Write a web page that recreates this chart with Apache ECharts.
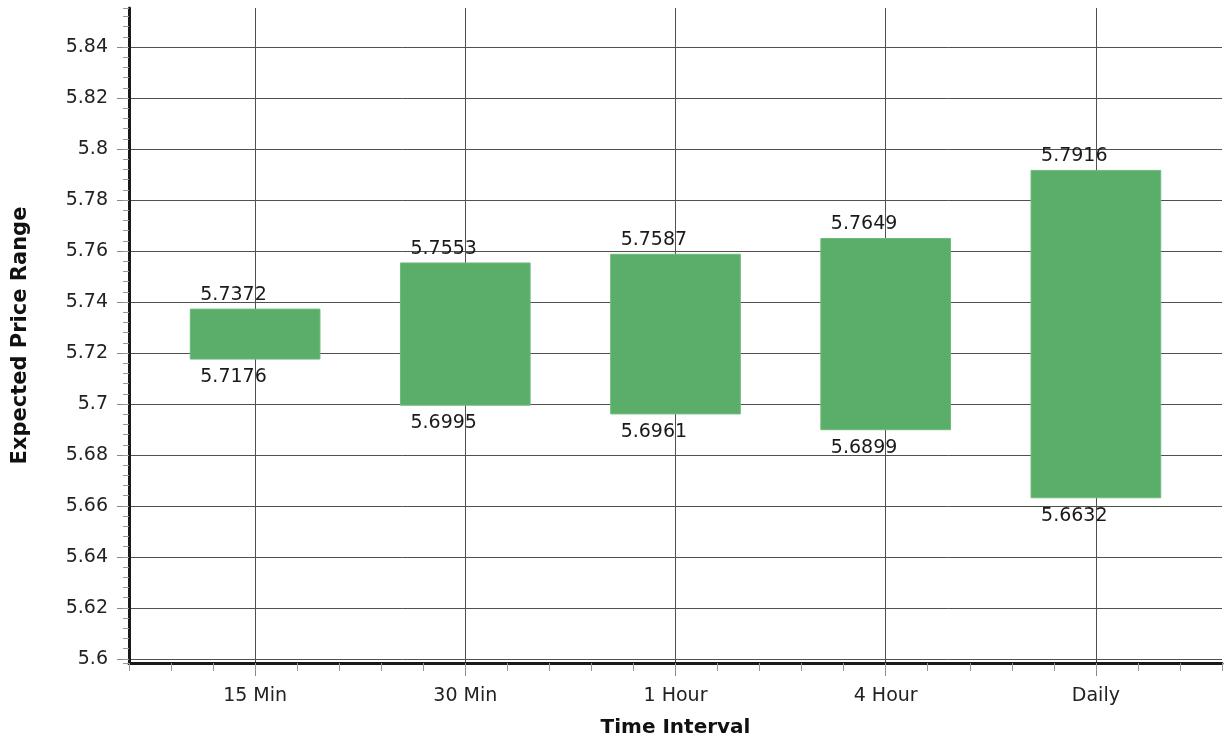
<!DOCTYPE html>
<html>
<head>
<meta charset="utf-8">
<script src="https://cdn.jsdelivr.net/npm/echarts@6/dist/echarts.min.js"></script>
<style>
  html, body { margin: 0; padding: 0; background: #ffffff; }
  #chart { width: 1225px; height: 743px; }
</style>
</head>
<body>
<div id="chart"></div>
<script>
// ---- data ----
const categories = ['15 Min', '30 Min', '1 Hour', '4 Hour', 'Daily'];
const highs = [5.7372, 5.7553, 5.7587, 5.7649, 5.7916];
const lows  = [5.7176, 5.6995, 5.6961, 5.6899, 5.6632];
const yMin = 5.5984, yMax = 5.8553, yStep = 0.02, yMinorStep = 0.004;
const xMin = -0.6, xMax = 4.6;
const yTickValues = [5.6, 5.62, 5.64, 5.66, 5.68, 5.7, 5.72, 5.74, 5.76, 5.78, 5.8, 5.82, 5.84];
const xTickValues = categories.map((c, i) => i);

const FONT = 'DejaVu Sans';
const rangeData = categories.map((c, i) => [i, lows[i], highs[i]]);

const chart = echarts.init(document.getElementById('chart'), null, { renderer: 'canvas' });

const option = {
  backgroundColor: '#ffffff',
  animation: false,
  grid: { left: 129, right: 0, top: 8, bottom: 80, containLabel: false },
  xAxis: [
    {
      type: 'value', min: xMin, max: xMax, minInterval: 1, maxInterval: 1,
      position: 'bottom',
      name: 'Time Interval', nameLocation: 'middle', nameGap: 55,
      nameTextStyle: { fontFamily: FONT, fontSize: 20, fontWeight: 'bold', color: '#111' },
      axisLine: { show: true, onZero: false, lineStyle: { color: '#1a1a1a', width: 3 } },
      axisTick: { show: true, length: 13, customValues: xTickValues, lineStyle: { color: '#888', width: 1 } },
      axisLabel: {
        margin: 24, fontFamily: FONT, fontSize: 19, color: '#222',
        formatter: v => (Math.abs(v - Math.round(v)) < 1e-6 && categories[Math.round(v)] !== undefined) ? categories[Math.round(v)] : ''
      },
      splitLine: { show: true, showMinLine: true, showMaxLine: true, lineStyle: { color: '#505050', width: 1 } }
    },
    {
      type: 'value', min: xMin, max: xMax, interval: 0.2,
      position: 'bottom', offset: 0,
      axisLine: { show: false, onZero: false },
      axisTick: { show: true, length: 8, lineStyle: { color: '#999', width: 1 } },
      axisLabel: { show: false },
      splitLine: { show: false }
    }
  ],
  yAxis: [
    {
      type: 'value', min: yMin, max: yMax, minInterval: yStep, maxInterval: yStep,
      position: 'left',
      name: 'Expected Price Range', nameLocation: 'middle', nameGap: 98,
      nameTextStyle: { fontFamily: FONT, fontSize: 21, fontWeight: 'bold', color: '#111' },
      axisLine: { show: true, onZero: false, lineStyle: { color: '#1a1a1a', width: 3 } },
      axisTick: { show: true, length: 12, customValues: yTickValues, lineStyle: { color: '#888', width: 1 } },
      axisLabel: {
        margin: 21, fontFamily: FONT, fontSize: 19, color: '#222',
        formatter: v => {
          const k = v / yStep;
          return Math.abs(k - Math.round(k)) < 1e-6 ? String(+v.toFixed(2)) : '';
        }
      },
      splitLine: { show: true, showMinLine: true, showMaxLine: true, lineStyle: { color: '#505050', width: 1 } }
    },
    {
      type: 'value', min: yMin, max: yMax, minInterval: yMinorStep, maxInterval: yMinorStep,
      position: 'left', offset: 0,
      axisLine: { show: false, onZero: false },
      axisTick: { show: true, length: 6, lineStyle: { color: '#999', width: 1 } },
      axisLabel: { show: false },
      splitLine: { show: false }
    }
  ],
  series: [
    {
      type: 'custom',
      xAxisIndex: 0, yAxisIndex: 0,
      data: rangeData,
      encode: { x: 0, y: [1, 2] },
      renderItem: function (params, api) {
        const i = api.value(0);
        const lo = api.value(1);
        const hi = api.value(2);
        const pTop = api.coord([i, hi]);
        const pBot = api.coord([i, lo]);
        const w = api.size([0.617, 0])[0];
        const left = pTop[0] - w / 2;
        return {
          type: 'group',
          children: [
            {
              type: 'rect',
              shape: { x: left, y: pTop[1], width: w, height: pBot[1] - pTop[1] },
              style: { fill: '#5bae69', stroke: '#6fbb7c', lineWidth: 1 }
            },
            {
              type: 'text',
              x: left + 10, y: pTop[1] - 14,
              style: { text: highs[params.dataIndex].toFixed(4), fontFamily: FONT, fontSize: 19, fill: '#1a1a1a', align: 'left', verticalAlign: 'middle' }
            },
            {
              type: 'text',
              x: left + 10, y: pBot[1] + 18,
              style: { text: lows[params.dataIndex].toFixed(4), fontFamily: FONT, fontSize: 19, fill: '#1a1a1a', align: 'left', verticalAlign: 'middle' }
            }
          ]
        };
      }
    }
  ]
};

chart.setOption(option);
</script>
</body>
</html>
